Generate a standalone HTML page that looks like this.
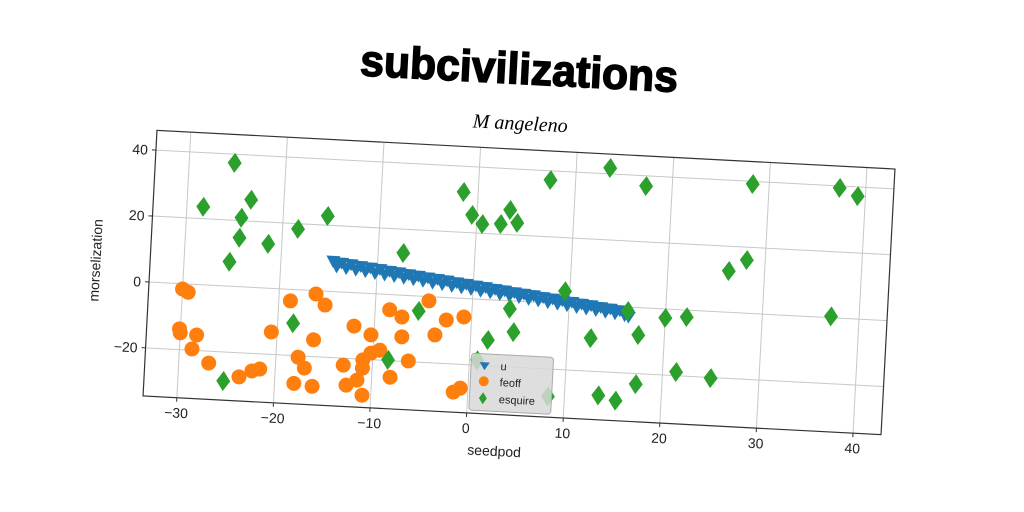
<!DOCTYPE html>
<html><head><meta charset="utf-8"><style>
html,body{margin:0;padding:0;background:#fff;}
svg{display:block;font-family:"Liberation Sans","DejaVu Sans",sans-serif;}
</style></head><body>
<svg id="chart" width="1024" height="512" viewBox="0 0 1024 512" xmlns="http://www.w3.org/2000/svg">
<rect x="0" y="0" width="1024" height="512" fill="#fff"/>
<g id="rot" transform="rotate(3,519,282.5)">
<text x="508" y="84" text-anchor="middle" font-family="'Liberation Sans Narrow','Liberation Sans',sans-serif" font-weight="bold" font-size="44" textLength="318" lengthAdjust="spacingAndGlyphs" fill="#000" stroke="#000" stroke-width="1.5">subcivilizations</text>
<text x="512" y="130" text-anchor="middle" font-family="'Liberation Serif',serif" font-style="italic" font-size="20" fill="#000">M angeleno</text>
<g id="grid"></g>
<g id="marks"></g>
<rect x="149.5" y="149.5" width="739" height="266" fill="none" stroke="#333" stroke-width="1.2"/>
<g id="ticks"></g>
<text x="503" y="457" text-anchor="middle" font-size="14" fill="#222">seedpod</text>
<text x="0" y="0" text-anchor="middle" font-size="14" fill="#222" transform="translate(100,282.5) rotate(-90)">morselization</text>
<g>
<rect x="475.5" y="355.5" width="82" height="57" rx="3" fill="#d8d8d8" fill-opacity="0.85" stroke="#aaa"/>
<path d="M484,364 L494,364 L489,372 Z" fill="#1f77b4"/>
<text x="505" y="371" font-size="11" fill="#222">u</text>
<circle cx="489" cy="383" r="5" fill="#ff7f0e"/>
<text x="505" y="387" font-size="11" fill="#222">feoff</text>
<path d="M489,394 L493,400 L489,406 L485,400 Z" fill="#2ca02c"/>
<text x="505" y="404" font-size="11" fill="#222">esquire</text>
</g>
</g>
</svg>
<script>
const xTicks=[-30,-20,-10,0,10,20,30,40];
const yTicks=[-20,0,20,40];
const uX=[-14.6,-14.2,-13.7,-13.2,-12.7,-12.2,-11.7,-11.2,-10.7,-10.2,-9.7,-9.2,-8.7,-8.2,-7.7,-7.2,-6.7,-6.2,-5.7,-5.2,-4.7,-4.2,-3.7,-3.2,-2.7,-2.2,-1.7,-1.2,-0.7,-0.2,0.3,0.8,1.3,1.8,2.3,2.8,3.3,3.8,4.3,4.8,5.3,5.8,6.3,6.8,7.3,7.8,8.3,8.8,9.3,9.8,10.3,10.8,11.3,11.8,12.3,12.8,13.3,13.8,14.3,14.8,15.3,15.8,16.2];
const uY=[9.0,7.4,8.6,7.0,8.3,6.7,7.9,6.4,7.6,6.0,7.3,5.7,6.9,5.4,6.6,5.0,6.2,4.7,5.9,4.4,5.5,4.0,5.2,3.7,4.9,3.3,4.5,3.0,4.2,2.7,3.8,2.3,3.5,2.0,3.1,1.6,2.8,1.3,2.4,1.0,2.1,0.6,1.8,0.3,1.4,-0.1,1.1,-0.4,0.7,-0.7,0.4,-1.1,0.0,-1.4,-0.3,-1.7,-0.7,-2.1,-1.0,-2.4,-1.4,-2.8,-3.2];
const feoffX=[-30,-29.4,-30.1,-30,-28.3,-28.7,-26.9,-23.7,-22.4,-21.6,-20.6,-18.8,-16.2,-15.2,-16.2,-17.7,-17,-18,-16.1,-13,-12.1,-10.3,-8.5,-7.2,-7.1,-3.7,-2.6,-0.8,-4.5,-11,-10.2,-9.3,-11,-12.6,-11.5,-10.9,-8.1,-6.3,-1.5,-0.8];
const feoffY=[-1.6,-2.5,-13.7,-14.9,-15.3,-19.6,-23.6,-27.3,-25.3,-24.6,-13.2,-3.5,-1,-4.2,-14.9,-20.4,-23.6,-28.4,-29,-22.1,-10.1,-12.5,-4.6,-6.6,-12.6,-11.5,-6.8,-5.6,-1.3,-20.2,-18,-17,-22.7,-28.1,-26.4,-30.9,-25,-19.8,-28.5,-27.2];
const esqX=[-25.3,-28.3,-23.4,-24.3,-24.4,-25.3,-21.4,-18.4,-15.4,-25.3,-18.4,-7.4,-1.5,-0.5,0.6,2.5,3.4,4.2,7.4,9.5,-5.5,-8.4,3.9,1.8,4.4,0.8,16.1,12.4,13.5,17.3,17.3,20,21.4,22.2,13.5,15.3,17.3,25,26.3,28.1,28.3,37.1,37.3,39.2,8.3];
const esqY=[37.4,23.6,26.5,20.9,14.8,7.4,13.4,18.4,22.8,-28.8,-10.2,12.8,32.2,25.4,22.8,23.1,27.5,23.7,37.2,3.8,-4.5,-19.8,-2.4,-12.2,-9.4,-18.5,-1.2,-10,41.8,36.9,-8.3,-2.7,-18.9,-2.1,-27.2,-28.5,-23.2,-20.2,12.5,16.1,39.2,0.4,39.4,37.2,-28.3];

const NS='http://www.w3.org/2000/svg';
const X0=149.5,Y0=149.5,W=739,H=266,XMIN=-33.5,XMAX=42.9,YMIN=-34.6,YMAX=46;
function sx(v){return X0+(v-XMIN)/(XMAX-XMIN)*W;}
function sy(v){return Y0+(YMAX-v)/(YMAX-YMIN)*H;}
function mk(tag,attrs,parent){const e=document.createElementNS(NS,tag);for(const k in attrs)e.setAttribute(k,attrs[k]);parent.appendChild(e);return e;}
const grid=document.getElementById('grid'),ticks=document.getElementById('ticks'),marks=document.getElementById('marks');
xTicks.forEach(t=>{
  const x=sx(t);
  const g=mk('line',{x1:x,y1:Y0,x2:x,y2:Y0+H,stroke:'#c8c8c8','stroke-width':1},grid);
  
  
  const tk=mk('line',{x1:x,y1:Y0+H,x2:x,y2:Y0+H+4,stroke:'#333'},ticks);
  
  
  const lb=mk('text',{x:x,y:Y0+H+20,'text-anchor':'middle','font-size':14,fill:'#222'},ticks);
  lb.textContent=t<0?'\u2212'+Math.abs(t):String(t);
  
  
});
yTicks.forEach(t=>{
  const y=sy(t);
  const g=mk('line',{x1:X0,y1:y,x2:X0+W,y2:y,stroke:'#c8c8c8','stroke-width':1},grid);
  
  
  const tk=mk('line',{x1:X0-4,y1:y,x2:X0,y2:y,stroke:'#333'},ticks);
  
  
  const lb=mk('text',{x:X0-8,y:y+5,'text-anchor':'end','font-size':14,fill:'#222'},ticks);
  lb.textContent=t<0?'\u2212'+Math.abs(t):String(t);
  
  
});
uX.forEach((v,i)=>{
  const x=sx(v),y=sy(uY[i]);
  const p=mk('path',{d:`M${x-7},${y-6} L${x+7},${y-6} L${x},${y+6} Z`,fill:'#1f77b4'},marks);
  
  
});
feoffX.forEach((v,i)=>{
  const c=mk('circle',{cx:sx(v),cy:sy(feoffY[i]),r:7.5,fill:'#ff7f0e'},marks);
  
  
});
esqX.forEach((v,i)=>{
  const x=sx(v),y=sy(esqY[i]);
  const p=mk('path',{d:`M${x},${y-10} L${x+7},${y} L${x},${y+10} L${x-7},${y} Z`,fill:'#2ca02c'},marks);
  
  
});
</script>
</body></html>
